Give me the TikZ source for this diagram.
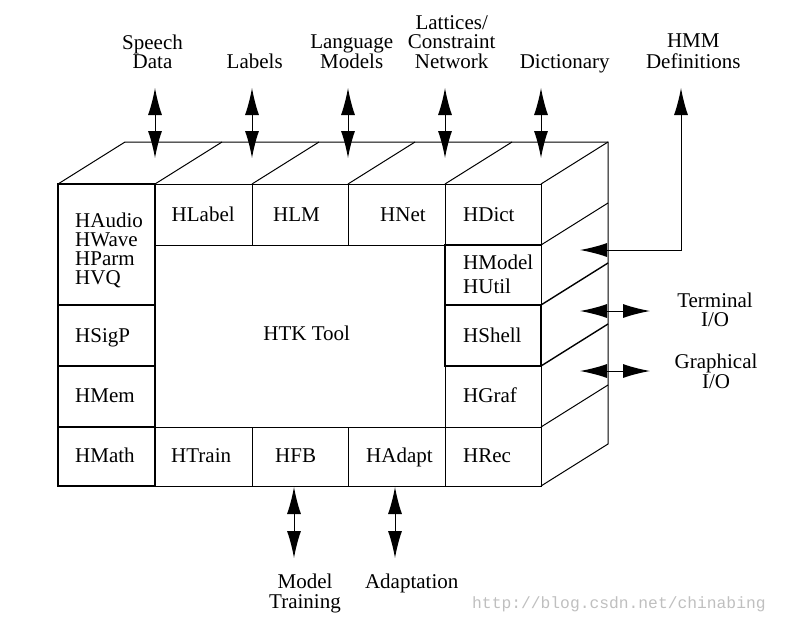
\documentclass[tikz,border=0pt]{standalone}
\usepackage{fontspec}
\setmainfont{Liberation Serif}
\newfontfamily\wmfont{Liberation Mono}
\usetikzlibrary{arrows.meta}
\begin{document}
\begin{tikzpicture}[x=1pt,y=-1pt,
  edge/.style={line width=1pt, line join=miter},
  boldedge/.style={line width=2pt},
  midedge/.style={line width=1.4pt},
  txt/.style={font=\fontsize{21}{18}\selectfont, inner sep=0pt, anchor=base west},
  lbl/.style={font=\fontsize{21}{17.5}\selectfont, inner sep=0pt, anchor=base},
  twoway/.style={line width=1pt, {Latex[length=27pt,width=14pt]}-{Latex[length=27pt,width=14pt]}},
  wm/.style={font=\wmfont\fontsize{16.3}{18}\selectfont, text=black!25, inner sep=0pt, anchor=base west}]
\useasboundingbox (0,0) rectangle (785,619);

% ---- cube: back edges and depth lines
\draw[edge] (125,142) -- (608,142) -- (608,444) -- (541,486);
\foreach \x in {58,155,252,348,445,541} \draw[edge] (\x,184) -- ++(67,-42);
\foreach \y in {245,427} \draw[edge] (541,\y) -- ++(67,-42);
\foreach \y in {305,366} \draw[midedge] (541,\y) -- ++(67,-42);

% ---- front face grid
\draw[edge] (58,184) rectangle (541,486);
\draw[edge] (155,245) -- (541,245);
\draw[edge] (58,427) -- (541,427);
\draw[edge] (155,184) -- (155,486);
\draw[edge] (445,184) -- (445,486);
\foreach \x in {252,348} {
  \draw[edge] (\x,184) -- (\x,245);
  \draw[edge] (\x,427) -- (\x,486);
}
\draw[edge] (445,305) -- (541,305);
\draw[edge] (445,366) -- (541,366);

% ---- bold boxes
\draw[boldedge] (58,184) rectangle (155,486);
\foreach \y in {305,366,427} \draw[boldedge] (58,\y) -- (155,\y);
\draw[boldedge] (445,305) rectangle (541,366);
\draw[boldedge] (445,305) -- (445,245) -- (541,245);

% ---- cell texts
\node[txt] (hlabel) at (171.5,221) {HLabel};
\node[txt] (hlm) at (273,221) {HLM};
\node[txt] (hnet) at (380,221) {HNet};
\node[txt] (hdict) at (463,221) {HDict};
\node[txt] (haudio) at (75,227.3) {\begin{tabular}[t]{@{}l@{}}HAudio\\HWave\\HParm\\HVQ\end{tabular}};
\node[txt, font=\fontsize{21}{24}\selectfont] (hmodel) at (463,269) {\begin{tabular}[t]{@{}l@{}}HModel\\HUtil\end{tabular}};
\node[txt] (hsigp) at (75,342) {HSigP};
\node[txt] (hshell) at (463,342) {HShell};
\node[txt, anchor=base] (htk) at (306.7,340) {HTK Tool};
\node[txt] (hmem) at (75,402) {HMem};
\node[txt] (hgraf) at (463,402) {HGraf};
\node[txt] (hmath) at (75,462) {HMath};
\node[txt] (htrain) at (171,462) {HTrain};
\node[txt] (hfb) at (275,462) {HFB};
\node[txt] (hadapt) at (366,462) {HAdapt};
\node[txt] (hrec) at (463,462) {HRec};

% ---- outer labels
\node[lbl] (speech) at (152.5,68) {\begin{tabular}[b]{@{}c@{}}Speech\\Data\end{tabular}};
\node[lbl] (labels) at (254.7,68) {Labels};
\node[lbl] (langmod) at (351.7,68) {\begin{tabular}[b]{@{}c@{}}Language\\Models\end{tabular}};
\node[lbl] (lattices) at (451.7,68) {\begin{tabular}[b]{@{}c@{}}Lattices/\\Constraint\\Network\end{tabular}};
\node[lbl] (dict) at (564.7,68) {Dictionary};
\node[lbl] (hmmdef) at (693.3,68) {\begin{tabular}[b]{@{}c@{}}HMM\\Definitions\end{tabular}};
\node[lbl] (termio) at (715,326.7) {\begin{tabular}[b]{@{}c@{}}Terminal\\I/O\end{tabular}};
\node[lbl] (graphio) at (716,388) {\begin{tabular}[b]{@{}c@{}}Graphical\\I/O\end{tabular}};
\node[lbl] (modtrain) at (305,608) {\begin{tabular}[b]{@{}c@{}}Model\\Training\end{tabular}};
\node[lbl] (adapt) at (411.7,588) {Adaptation};
\node[wm] (watermark) at (472,608) {http://blog.csdn.net/chinabing};

% ---- connector end points
\foreach \n/\x in {sp/155,lb/252,lm/348,lt/445,dc/541} {
  \coordinate (\n A) at (\x,88);
  \coordinate (\n B) at (\x,158);
}
\coordinate (hmmA) at (681,88);
\coordinate (hmmC) at (681,250);
\coordinate (hmmB) at (580,250);
\coordinate (tA) at (580,311);
\coordinate (tB) at (650,311);
\coordinate (gA) at (580,371);
\coordinate (gB) at (650,371);
\coordinate (mtA) at (294,487);
\coordinate (mtB) at (294,558);
\coordinate (adA) at (395,487);
\coordinate (adB) at (395,558);

% ---- connectors
\foreach \n in {sp,lb,lm,lt,dc} \draw[twoway] (\n A) -- (\n B);
\draw[twoway] (hmmA) -- (hmmC) -- (hmmB);
\draw[twoway] (tA) -- (tB);
\draw[twoway] (gA) -- (gB);
\draw[twoway] (mtA) -- (mtB);
\draw[twoway] (adA) -- (adB);
\end{tikzpicture}
\end{document}
